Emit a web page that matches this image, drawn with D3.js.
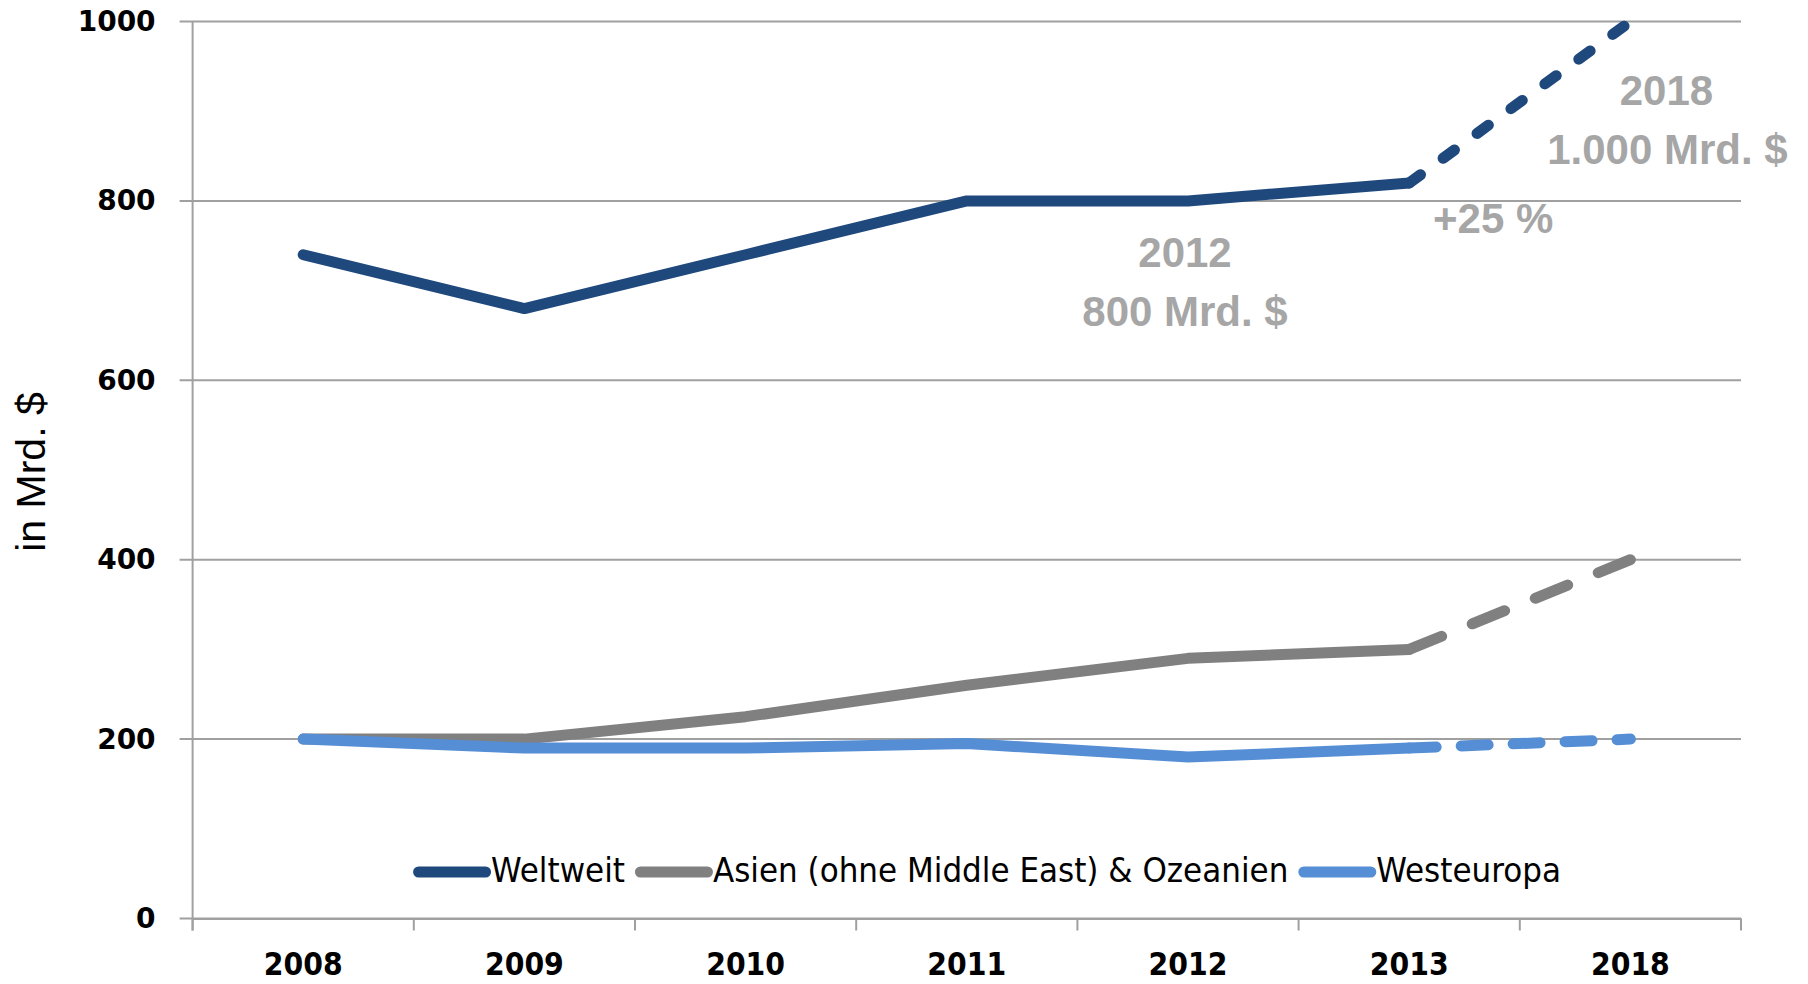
<!DOCTYPE html>
<html>
<head>
<meta charset="utf-8">
<script src="https://cdn.jsdelivr.net/npm/d3@7"></script>
<style>
  body { margin: 0; background: #fff; }
  svg { display: block; }
</style>
</head>
<body>
<script>
// Data
let years = ['2008', '2009', '2010', '2011', '2012', '2013', '2018'];
let weltweit = [740, 680, 740, 800, 800, 820, 1000];
let asien = [200, 200, 225, 260, 290, 300, 400];
let westeuropa = [200, 190, 190, 195, 180, 190, 200];
let yTicks = [0, 200, 400, 600, 800, 1000];
let seriesNames = ['Weltweit', 'Asien (ohne Middle East) & Ozeanien', 'Westeuropa'];
let colors = ['#1f497d', '#808080', '#558ed5'];
let dashes = ['14 28', '35 33', '27 25'];

let series = [weltweit, asien, westeuropa];

let W = 1808, H = 984;
let mLeft = 192.6, mRight = 1741, mTop = 21.5, mBottom = 918.5;

let svg = d3.select('body').append('svg')
  .attr('width', W)
  .attr('height', H);

let x = d3.scaleBand().domain(years).range([mLeft, mRight]).padding(0);
let y = d3.scaleLinear().domain([0, 1000]).range([mBottom, mTop]);
let cx = d => x(d) + x.bandwidth() / 2;

// gridlines
svg.selectAll('.grid')
  .data(yTicks)
  .enter()
  .append('line')
  .attr('x1', mLeft - 13)
  .attr('x2', mRight)
  .attr('y1', d => y(d))
  .attr('y2', d => y(d))
  .attr('stroke', '#a0a0a0')
  .attr('stroke-width', 2);

// y axis labels
let yAxis = svg.append('g')
  .attr('transform', `translate(${mLeft},0)`)
  .call(d3.axisLeft(y).tickValues(yTicks).tickSize(0).tickPadding(37).tickFormat(d3.format('d')));
yAxis.select('.domain').remove();
yAxis.selectAll('text')
  .attr('font-family', 'DejaVu Sans, sans-serif')
  .attr('font-weight', 'bold')
  .attr('font-size', '28px')
  .attr('fill', '#000');

// y axis line
svg.append('line')
  .attr('x1', mLeft).attr('x2', mLeft)
  .attr('y1', mTop).attr('y2', mBottom + 12)
  .attr('stroke', '#a0a0a0').attr('stroke-width', 2);

// x axis
let xAxis = svg.append('g')
  .attr('transform', `translate(0,${mBottom})`)
  .call(d3.axisBottom(x).tickSize(0).tickPadding(34));
xAxis.select('.domain')
  .attr('stroke', '#a0a0a0')
  .attr('stroke-width', 2);
xAxis.selectAll('text')
  .attr('font-family', "'DejaVu Sans Condensed', 'DejaVu Sans', sans-serif")
  .attr('font-stretch', 'condensed')
  .attr('font-weight', 'bold')
  .attr('font-size', '31.5px')
  .attr('fill', '#000');

// x ticks at category boundaries
let edges = years.map(d => x(d)).concat([mRight]);
svg.selectAll('.xtick')
  .data(edges)
  .enter()
  .append('line')
  .attr('x1', d => d).attr('x2', d => d)
  .attr('y1', mBottom).attr('y2', mBottom + 12)
  .attr('stroke', '#a0a0a0').attr('stroke-width', 2);

// lines: solid up to 2013, dashed to 2018
let line = d3.line()
  .x(d => cx(d.year))
  .y(d => y(d.value));

series.forEach((vals, i) => {
  let pts = years.map((yr, j) => ({ year: yr, value: vals[j] }));
  svg.append('path')
    .attr('d', line(pts.slice(0, 6)))
    .attr('fill', 'none')
    .attr('stroke', colors[i])
    .attr('stroke-width', 11)
    .attr('stroke-linecap', 'round')
    .attr('stroke-linejoin', 'round');
  svg.append('path')
    .attr('d', line(pts.slice(5)))
    .attr('fill', 'none')
    .attr('stroke', colors[i])
    .attr('stroke-width', 11)
    .attr('stroke-linecap', 'round')
    .attr('stroke-dasharray', dashes[i]);
});

// annotations
let note = (txt, xx, yy) => svg.append('text')
  .text(txt)
  .attr('x', xx)
  .attr('y', yy)
  .attr('text-anchor', 'middle')
  .attr('font-family', 'Liberation Sans, Arial, sans-serif')
  .attr('font-weight', 'bold')
  .attr('font-size', '42px')
  .attr('fill', '#a6a6a6');

note('2012', cx('2012') - 3, 267);
note('800 Mrd. $', cx('2012') - 3, 326);
note('+25 %', cx('2013') + 84, 233);
note('2018', cx('2018') + 36, 105);
note('1.000 Mrd. $', cx('2018') + 37, 164);

// y axis title
svg.append('text')
  .text('in Mrd. $')
  .attr('transform', 'translate(45,472) rotate(-90)')
  .attr('text-anchor', 'middle')
  .attr('font-family', 'Liberation Sans, Arial, sans-serif')
  .attr('font-size', '41px')
  .attr('fill', '#000');

// legend
let legend = svg.append('g');
let lx = 0;
seriesNames.forEach((name, i) => {
  let g = legend.append('g').attr('transform', `translate(${lx},0)`);
  g.append('line')
    .attr('x1', 5.5).attr('x2', 72.5)
    .attr('y1', 0).attr('y2', 0)
    .attr('stroke', colors[i])
    .attr('stroke-width', 11)
    .attr('stroke-linecap', 'round');
  let t = g.append('text')
    .text(name)
    .attr('x', 78)
    .attr('y', 10)
    .attr('font-family', "'DejaVu Sans Condensed', 'DejaVu Sans', sans-serif")
    .attr('font-stretch', 'condensed')
    .attr('font-size', '34.5px')
    .attr('fill', '#000');
  lx += 78 + t.node().getComputedTextLength() + 10;
});
let legendW = lx - 10;
legend.attr('transform', `translate(${987 - legendW / 2},872)`);
</script>
</body>
</html>
